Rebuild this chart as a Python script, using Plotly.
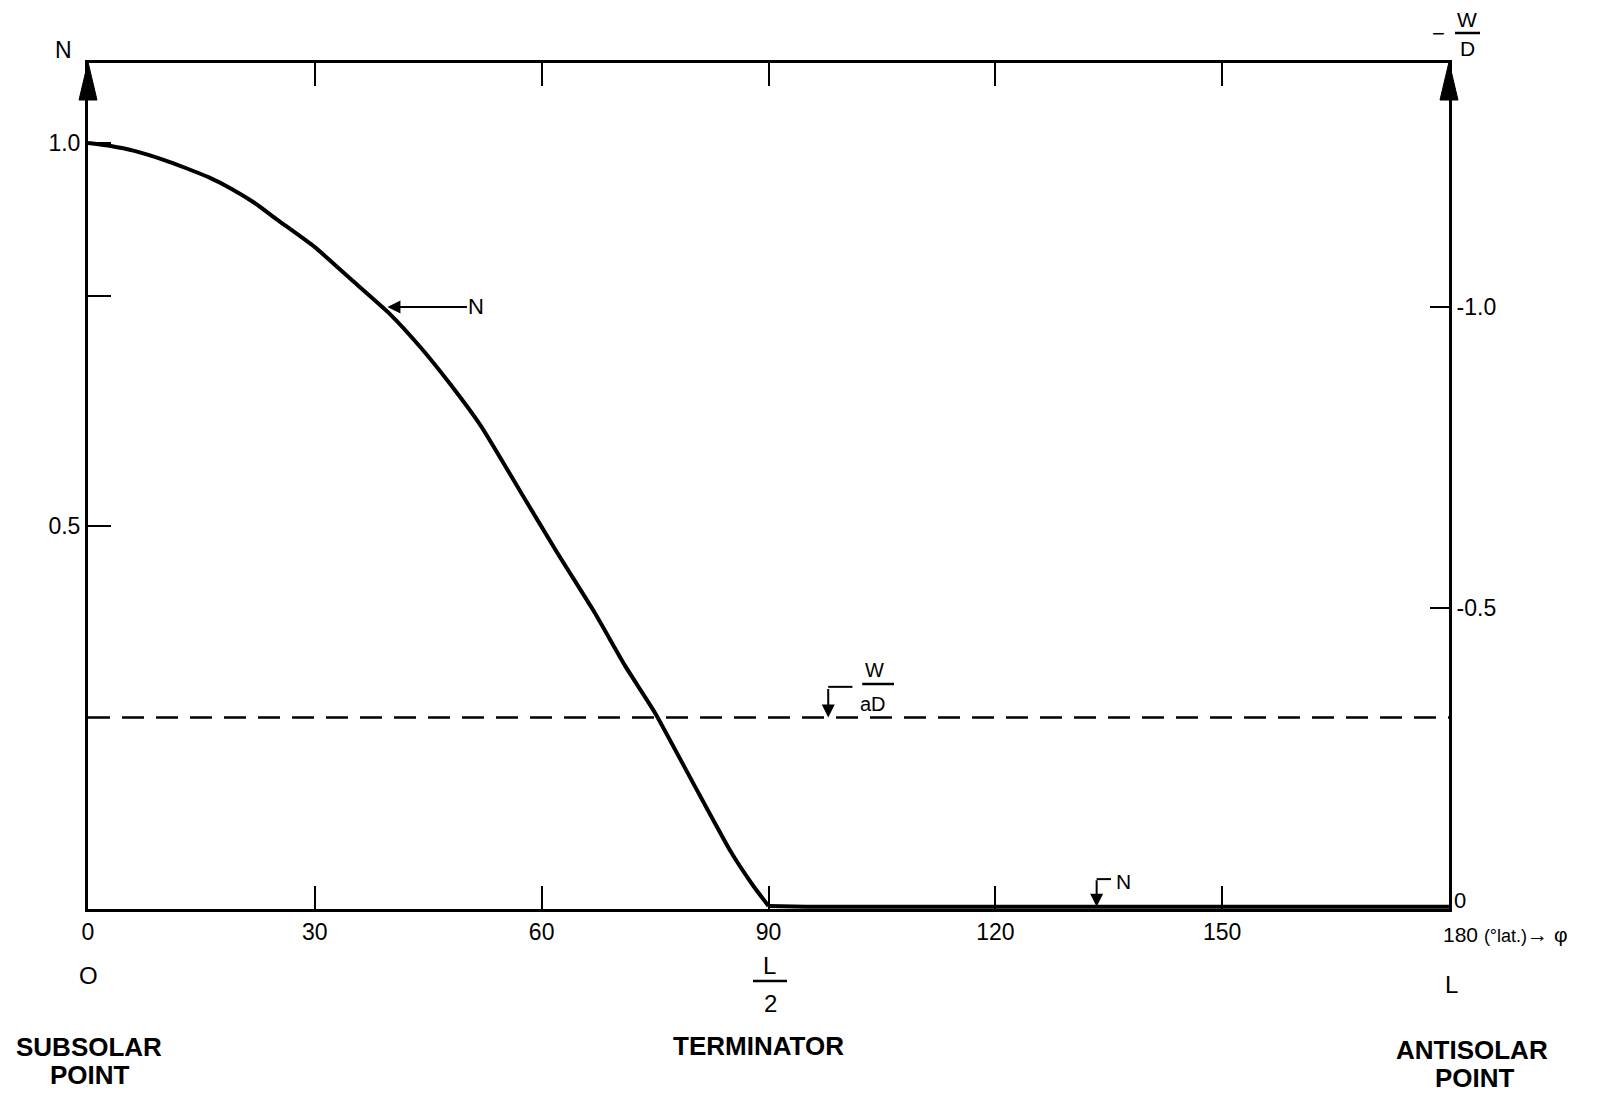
import plotly.graph_objects as go

# Latitude measured from the subsolar point (degrees) and normalised density N
phi = [0, 3, 6, 10, 13, 16, 19, 22, 25, 30, 35, 40, 44, 48, 52, 57, 62, 67, 71, 75,
       80, 85, 88, 90, 95, 120, 150, 180]
n_density = [1.000, 0.996, 0.990, 0.978, 0.967, 0.955, 0.940, 0.922, 0.900, 0.864,
             0.820, 0.776, 0.733, 0.684, 0.630, 0.548, 0.466, 0.387, 0.318, 0.256,
             0.165, 0.075, 0.030, 0.004, 0.003, 0.003, 0.003, 0.003]

# Level of W/aD, read on the N scale
w_over_ad = 0.25

# Axis ticks
phi_ticks = [0, 30, 60, 90, 120, 150, 180]
phi_ticktext = ["0", "30", "60", "90", "120", "150", ""]
n_ticks = [0.5, 0.8, 1.0]
n_ticktext = ["0.5", "", "1.0"]
wd_ticks = [0, -0.5, -1.0]
wd_ticktext = ["", "-0.5", "-1.0"]   # the 0 sits in the corner, set as a label below

N_MAX = 1.1044      # top of the N scale
WD_MAX = -1.405     # top of the -W/D scale

W, H = 1602, 1096
ML, MR, MT, MB = 88, 153, 63, 187
PW, PH = W - ML - MR, H - MT - MB

FONT = "Liberation Sans, Arial, sans-serif"
INK = "black"


def fx(px):
    """page pixel x -> paper x"""
    return (px - ML) / PW


def fy(py):
    """page pixel y -> paper y"""
    return (H - MB - py) / PH


# split the N profile at the terminator: smooth day side, flat night side
term = phi.index(90)

fig = go.Figure()

fig.add_trace(go.Scatter(
    x=[phi[0], phi[-1]], y=[w_over_ad, w_over_ad], mode="lines",
    line=dict(color=INK, width=2.5, dash="22px,12px"),
    hoverinfo="skip", showlegend=False))

fig.add_trace(go.Scatter(
    x=phi[:term + 1], y=n_density[:term + 1], mode="lines",
    line=dict(color=INK, width=4, shape="spline", smoothing=0.5),
    cliponaxis=False, showlegend=False))

fig.add_trace(go.Scatter(
    x=phi[term:], y=n_density[term:], mode="lines",
    line=dict(color=INK, width=4),
    cliponaxis=False, showlegend=False))

# the -W/D scale on the right carries no curve of its own
fig.add_trace(go.Scatter(x=[], y=[], yaxis="y2", mode="lines", showlegend=False))

annotations = []


def label(text, px, py, size=22, bold=False, xanchor="center"):
    if bold:
        text = "<b>" + text + "</b>"
    annotations.append(dict(
        text=text, xref="paper", yref="paper", x=fx(px), y=fy(py),
        xanchor=xanchor, yanchor="middle", showarrow=False,
        font=dict(family=FONT, size=size, color=INK)))


# axis titles
label("N", 63, 50, size=23)
label("\u2212", 1438, 33, size=22)
label("W", 1467, 20, size=21)
label("D", 1467, 48, size=21)

# zero of the -W/D scale
label("0", 1460, 900, size=22)

# along-track distance row
label("O", 88, 975, size=24)
label("L", 769, 966, size=24)
label("2", 770, 1004, size=24)
label("L", 1451, 984, size=24)

# position names
label("SUBSOLAR", 89, 1047, size=26, bold=True)
label("POINT", 90, 1075, size=26, bold=True)
label("TERMINATOR", 758, 1046, size=26, bold=True)
label("ANTISOLAR", 1472, 1050, size=26, bold=True)
label("POINT", 1475, 1078, size=26, bold=True)

# end of the latitude axis
label("180 <span style='font-size:18px'>(\u00b0lat.)</span>\u2192 \u03c6", 1441, 934,
      size=21, xanchor="left")

# N pointer on the falling branch
annotations.append(dict(
    x=39.6, y=0.786, xref="x", yref="y", text="N", ax=89, ay=0,
    showarrow=True, arrowhead=2, arrowsize=1.3, arrowwidth=2, arrowcolor=INK,
    standoff=0, font=dict(family=FONT, size=22, color=INK)))

# W/aD hooked pointer onto the dashed level
annotations.append(dict(
    x=97.9, y=w_over_ad, xref="x", yref="y", text="", ax=0, ay=-30,
    showarrow=True, arrowhead=2, arrowsize=1.3, arrowwidth=2, arrowcolor=INK,
    standoff=0))
annotations.append(dict(
    x=104.0, y=0.312, xref="x", yref="y", text="W", showarrow=False,
    font=dict(family=FONT, size=20, color=INK)))
annotations.append(dict(
    x=103.8, y=0.268, xref="x", yref="y", text="aD", showarrow=False,
    font=dict(family=FONT, size=20, color=INK)))

# N hooked pointer onto the night-side branch
annotations.append(dict(
    x=133.4, y=0.003, xref="x", yref="y", text="", ax=0, ay=-28,
    showarrow=True, arrowhead=2, arrowsize=1.3, arrowwidth=2, arrowcolor=INK,
    standoff=0))
annotations.append(dict(
    x=136.9, y=0.036, xref="x", yref="y", text="N", showarrow=False,
    font=dict(family=FONT, size=21, color=INK)))

shapes = [
    # fraction bars
    dict(type="line", xref="paper", yref="paper", x0=fx(1455), x1=fx(1480),
         y0=fy(33), y1=fy(33), line=dict(color=INK, width=2.5)),
    dict(type="line", xref="paper", yref="paper", x0=fx(753), x1=fx(787),
         y0=fy(981), y1=fy(981), line=dict(color=INK, width=2.5)),
    dict(type="line", xref="x", yref="y", x0=102.4, x1=106.6, y0=0.2937, y1=0.2937,
         line=dict(color=INK, width=2.5)),
    # hook tops
    dict(type="line", xref="x", yref="y", x0=97.9, x1=101.1, y0=0.290, y1=0.290,
         line=dict(color=INK, width=2)),
    dict(type="line", xref="x", yref="y", x0=133.4, x1=135.3, y0=0.039, y1=0.039,
         line=dict(color=INK, width=2)),
]

# arrowheads capping both vertical axes
for anchor in (0, 1):
    shapes.append(dict(
        type="path", xref="paper", yref="paper", xsizemode="pixel", ysizemode="pixel",
        xanchor=anchor, yanchor=1, path="M 0 1 L -9 -37 L 9 -37 Z",
        fillcolor=INK, line=dict(color=INK, width=1), layer="above"))

tickfont = dict(family=FONT, size=23, color=INK)

fig.update_layout(
    width=W, height=H,
    margin=dict(l=ML, r=MR, t=MT, b=MB, pad=0),
    paper_bgcolor="white", plot_bgcolor="white",
    showlegend=False,
    xaxis=dict(
        range=[0, 180], tickmode="array", tickvals=phi_ticks, ticktext=phi_ticktext,
        ticks="inside", ticklen=23, tickwidth=2, tickcolor=INK,
        showline=True, linewidth=3, linecolor=INK, mirror="ticks",
        showgrid=False, zeroline=False, tickfont=tickfont),
    yaxis=dict(
        range=[0, N_MAX], tickmode="array", tickvals=n_ticks, ticktext=n_ticktext,
        ticks="inside", ticklen=23, tickwidth=2, tickcolor=INK,
        showline=True, linewidth=3, linecolor=INK,
        showgrid=False, zeroline=False, tickfont=tickfont),
    yaxis2=dict(
        range=[0, WD_MAX], overlaying="y", side="right", anchor="x",
        tickmode="array", tickvals=wd_ticks, ticktext=wd_ticktext,
        ticks="inside", ticklen=19, tickwidth=2, tickcolor=INK,
        showline=True, linewidth=3, linecolor=INK,
        showgrid=False, zeroline=False, tickfont=tickfont),
    annotations=annotations,
    shapes=shapes,
)

fig.write_html("out.html")
